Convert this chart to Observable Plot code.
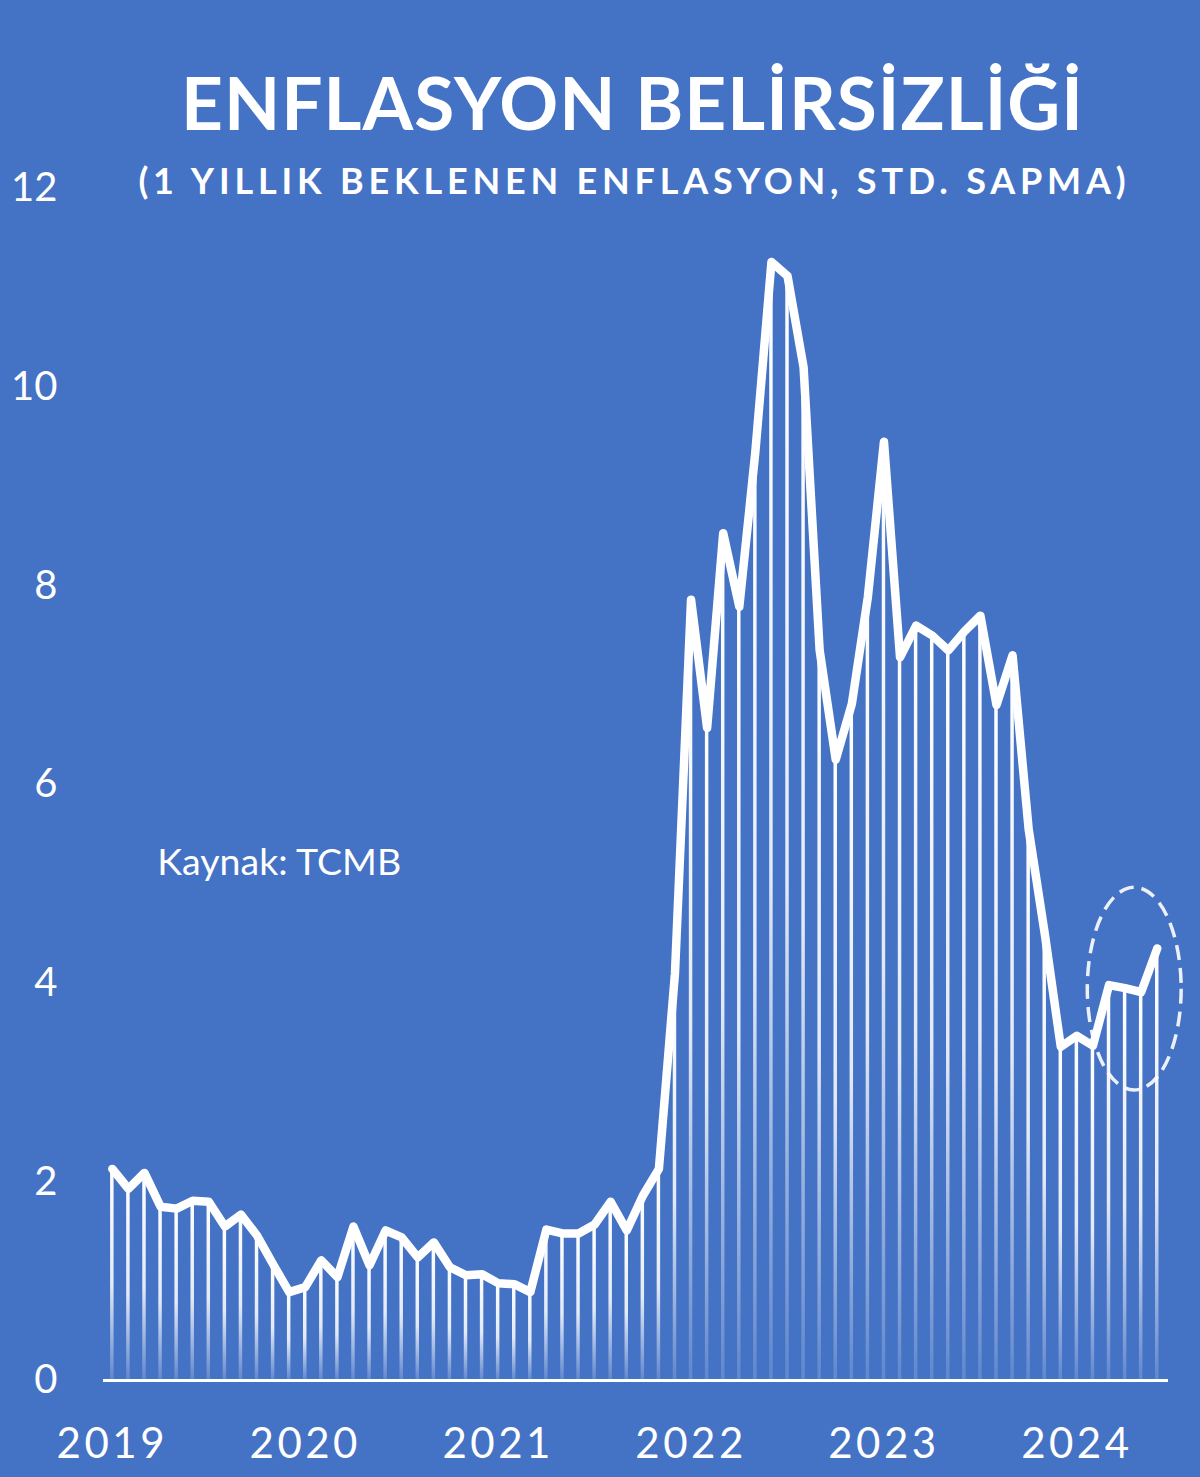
<!DOCTYPE html>
<html>
<head>
<meta charset="utf-8">
<script src="https://cdn.jsdelivr.net/npm/d3@7"></script>
<script src="https://cdn.jsdelivr.net/npm/@observablehq/plot@0.6"></script>
<style>
  html, body { margin: 0; padding: 0; background: #4472c4; }
  #wrap { position: relative; width: 1200px; height: 1477px; overflow: hidden; background: #4472c4; }
  #chart { position: absolute; left: 0; top: 0; }
  .title, .subtitle {
    position: absolute; transform: translateX(-50%); white-space: nowrap;
    color: #ffffff; font-family: Lato, "Open Sans", sans-serif; font-weight: 700; line-height: 1;
  }
  .title { left: 632px; top: 66px; font-size: 73px; letter-spacing: 1px; padding-left: 1px; }
  .subtitle { left: 632px; top: 162px; font-size: 36px; letter-spacing: 4.8px; padding-left: 4.8px; }
  #chart svg g[aria-label="x-axis tick label"] text { letter-spacing: 3.5px; }
</style>
</head>
<body>
<div id="wrap">
  <div id="chart"></div>
  <div class="title">ENFLASYON BELİRSİZLİĞİ</div>
  <div class="subtitle">(1 YILLIK BEKLENEN ENFLASYON, STD. SAPMA)</div>
</div>
<script>
// Monthly observations, Jan 2019 – Jun 2024 (std. deviation of 12‑month-ahead inflation expectations)
const months = d3.range(66); // 0 = Jan 2019 ... 65 = Jun 2024
const values = [
  2.13, 1.93, 2.09, 1.75, 1.73, 1.81, 1.80, 1.55, 1.67, 1.46, 1.17, 0.89,   // 2019
  0.94, 1.21, 1.04, 1.55, 1.16, 1.51, 1.44, 1.24, 1.39, 1.14, 1.06, 1.07,   // 2020
  0.98, 0.97, 0.89, 1.52, 1.48, 1.48, 1.57, 1.80, 1.51, 1.86, 2.13, 4.10,   // 2021
  7.86, 6.57, 8.53, 7.79, 9.35, 11.26, 11.12, 10.20, 7.35, 6.25, 6.81, 7.89, // 2022
  9.45, 7.28, 7.60, 7.50, 7.35, 7.54, 7.70, 6.80, 7.30, 5.55, 4.50, 3.36,   // 2023
  3.47, 3.37, 3.98, 3.95, 3.91, 4.35                                        // 2024
];
const yearTicks = [0, 12, 24, 36, 48, 60];
const yearLabels = ["2019", "2020", "2021", "2022", "2023", "2024"];
const yTicks = [0, 2, 4, 6, 8, 10, 12];
const sourceNote = [{i: 2.8, v: 5.21, text: "Kaynak: TCMB"}];
const highlight = {i: 63.6, v: 3.94, rx: 2.92, ry: 1.02};

const data = months.map((i) => ({i, v: values[i]}));

const chart = Plot.plot({
  width: 1200,
  height: 1477,
  marginLeft: 103,
  marginRight: 32,
  marginTop: 188,
  marginBottom: 97,
  style: {background: "#4472c4", color: "#ffffff", fontFamily: "Lato, 'Open Sans', sans-serif"},
  x: {type: "linear", domain: [-0.55, 65.7]},
  y: {domain: [0, 12]},
  marks: [
    () => {
      const defs = d3.create("svg:defs");
      const g = defs.append("linearGradient").attr("id", "dropGrad")
        .attr("x1", 0).attr("y1", 0).attr("x2", 0).attr("y2", 1);
      g.append("stop").attr("offset", "0%").attr("stop-color", "#ffffff").attr("stop-opacity", 1);
      g.append("stop").attr("offset", "55%").attr("stop-color", "#ffffff").attr("stop-opacity", 0.85);
      g.append("stop").attr("offset", "100%").attr("stop-color", "#ffffff").attr("stop-opacity", 0.15);
      return defs.node();
    },
    Plot.axisY({ticks: yTicks, tickSize: 0, tickPadding: 46, fontSize: 40, fill: "#ffffff", label: null}),
    Plot.axisX({ticks: yearTicks, tickFormat: (d) => yearLabels[yearTicks.indexOf(d)], tickSize: 0, tickPadding: 48, fontSize: 42, fill: "#ffffff", label: null}),
    Plot.rectY(data, {x1: (d) => d.i - 0.5, x2: (d) => d.i + 0.5, y: "v", insetLeft: 6.3, insetRight: 6.3, fill: "url(#dropGrad)"}),
    Plot.ruleY([0], {stroke: "#ffffff", strokeWidth: 3}),
    Plot.line(data, {x: "i", y: "v", stroke: "#ffffff", strokeWidth: 8.5, strokeLinejoin: "round", strokeLinecap: "round"}),
    (index, scales) => {
      const x = scales.x, y = scales.y;
      return d3.create("svg:ellipse")
        .attr("cx", x(highlight.i))
        .attr("cy", y(highlight.v))
        .attr("rx", x(highlight.i + highlight.rx) - x(highlight.i))
        .attr("ry", y(highlight.v - highlight.ry) - y(highlight.v))
        .attr("fill", "none")
        .attr("stroke", "#ffffff")
        .attr("stroke-opacity", 0.9)
        .attr("stroke-width", 3.5)
        .attr("stroke-dasharray", "15 8")
        .node();
    },
    Plot.text(sourceNote, {x: "i", y: "v", text: "text", textAnchor: "start", fontSize: 37.5, fill: "#ffffff"})
  ]
});
document.getElementById("chart").appendChild(chart);
</script>
</body>
</html>
